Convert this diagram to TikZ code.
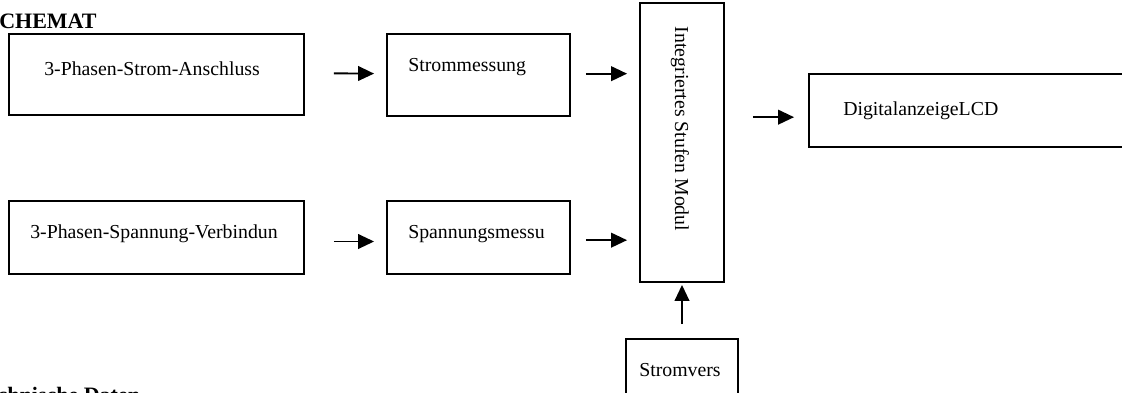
\documentclass[tikz,border=0pt]{standalone}
\usepackage{fontspec}
\setmainfont{Liberation Serif}
\usetikzlibrary{arrows.meta}

\tikzset{
  box/.style={draw, line width=1.4pt, inner sep=0pt},
  lbl/.style={anchor=base west, inner sep=0pt, font=\fontsize{14.85pt}{18pt}\selectfont},
  head/.style={anchor=base west, inner sep=0pt, font=\fontsize{16.5pt}{20pt}\selectfont\bfseries},
  arr/.style={line width=1.4pt, -{Triangle[length=12pt,width=11pt]}}
}

\begin{document}
\begin{tikzpicture}[x=0.75pt, y=-0.75pt]
  % frame of the page, everything outside is cut off
  \useasboundingbox (0,0) rectangle (1122,393);
  \clip (0,0) rectangle (1122,393);

  % heading
  \node[head] (titel) at (-1,28) {CHEMAT};

  % the boxes
  \node[box, minimum width=221.25pt, minimum height=60.75pt] (strom) at (156.5,74.5) {};
  \node[box, minimum width=137.25pt, minimum height=61.5pt] (stromm) at (478.5,75) {};
  \node[box, minimum width=221.25pt, minimum height=54.75pt] (spann) at (156.5,237.5) {};
  \node[box, minimum width=137.25pt, minimum height=54.75pt] (spannm) at (478.5,237.5) {};
  \node[box, minimum width=63pt, minimum height=209.25pt] (modul) at (682,142.5) {};
  \node[box, minimum width=244.5pt, minimum height=54.75pt] (lcd) at (972,110.5) {};
  \node[box, minimum width=84pt, minimum height=60.75pt] (versorg) at (682,379.5) {};

  % texts in the boxes
  \node[lbl] (stromT) at (44,75) {3-Phasen-Strom-Anschluss};
  \node[lbl] (strommT) at (408,71) {Strommessung};
  \node[lbl] (spannT) at (30,238) {3-Phasen-Spannung-Verbindun};
  \node[lbl] (spannmT) at (408,238) {Spannungsmessu};
  \node[lbl] (lcdT) at (843,115) {DigitalanzeigeLCD};
  \node[lbl] (versorgT) at (639,376) {Stromvers};
  \node[lbl, anchor=center, rotate=-90] (modulT) at (680,129) {Integriertes Stufen Modul};

  % arrows
  \draw[arr, shorten <=21.75pt, shorten >=9pt] ([yshift=1pt]strom.east) -- ([yshift=1pt]stromm.west);
  \draw[arr, shorten <=11.25pt, shorten >=9pt] ([yshift=1pt]stromm.east) -- ([yshift=1pt]stromm.east -| modul.west);
  \draw[arr, shorten <=21.75pt, shorten >=9pt] ([yshift=-3pt]spann.east) -- ([yshift=-3pt]spannm.west);
  \draw[arr, shorten <=11.25pt, shorten >=9pt] ([yshift=-2pt]spannm.east) -- ([yshift=-2pt]spannm.east -| modul.west);
  \draw[arr, shorten <=21pt, shorten >=10.5pt] ([yshift=-5pt]lcd.west -| modul.east) -- ([yshift=-5pt]lcd.west);
  \draw[arr, shorten <=10.5pt, shorten >=1.5pt] (versorg.north) -- (modul.south);

  % second heading, cut at the bottom
  \node[head] (daten) at (-25,402) {Technische Daten};
\end{tikzpicture}
\end{document}
